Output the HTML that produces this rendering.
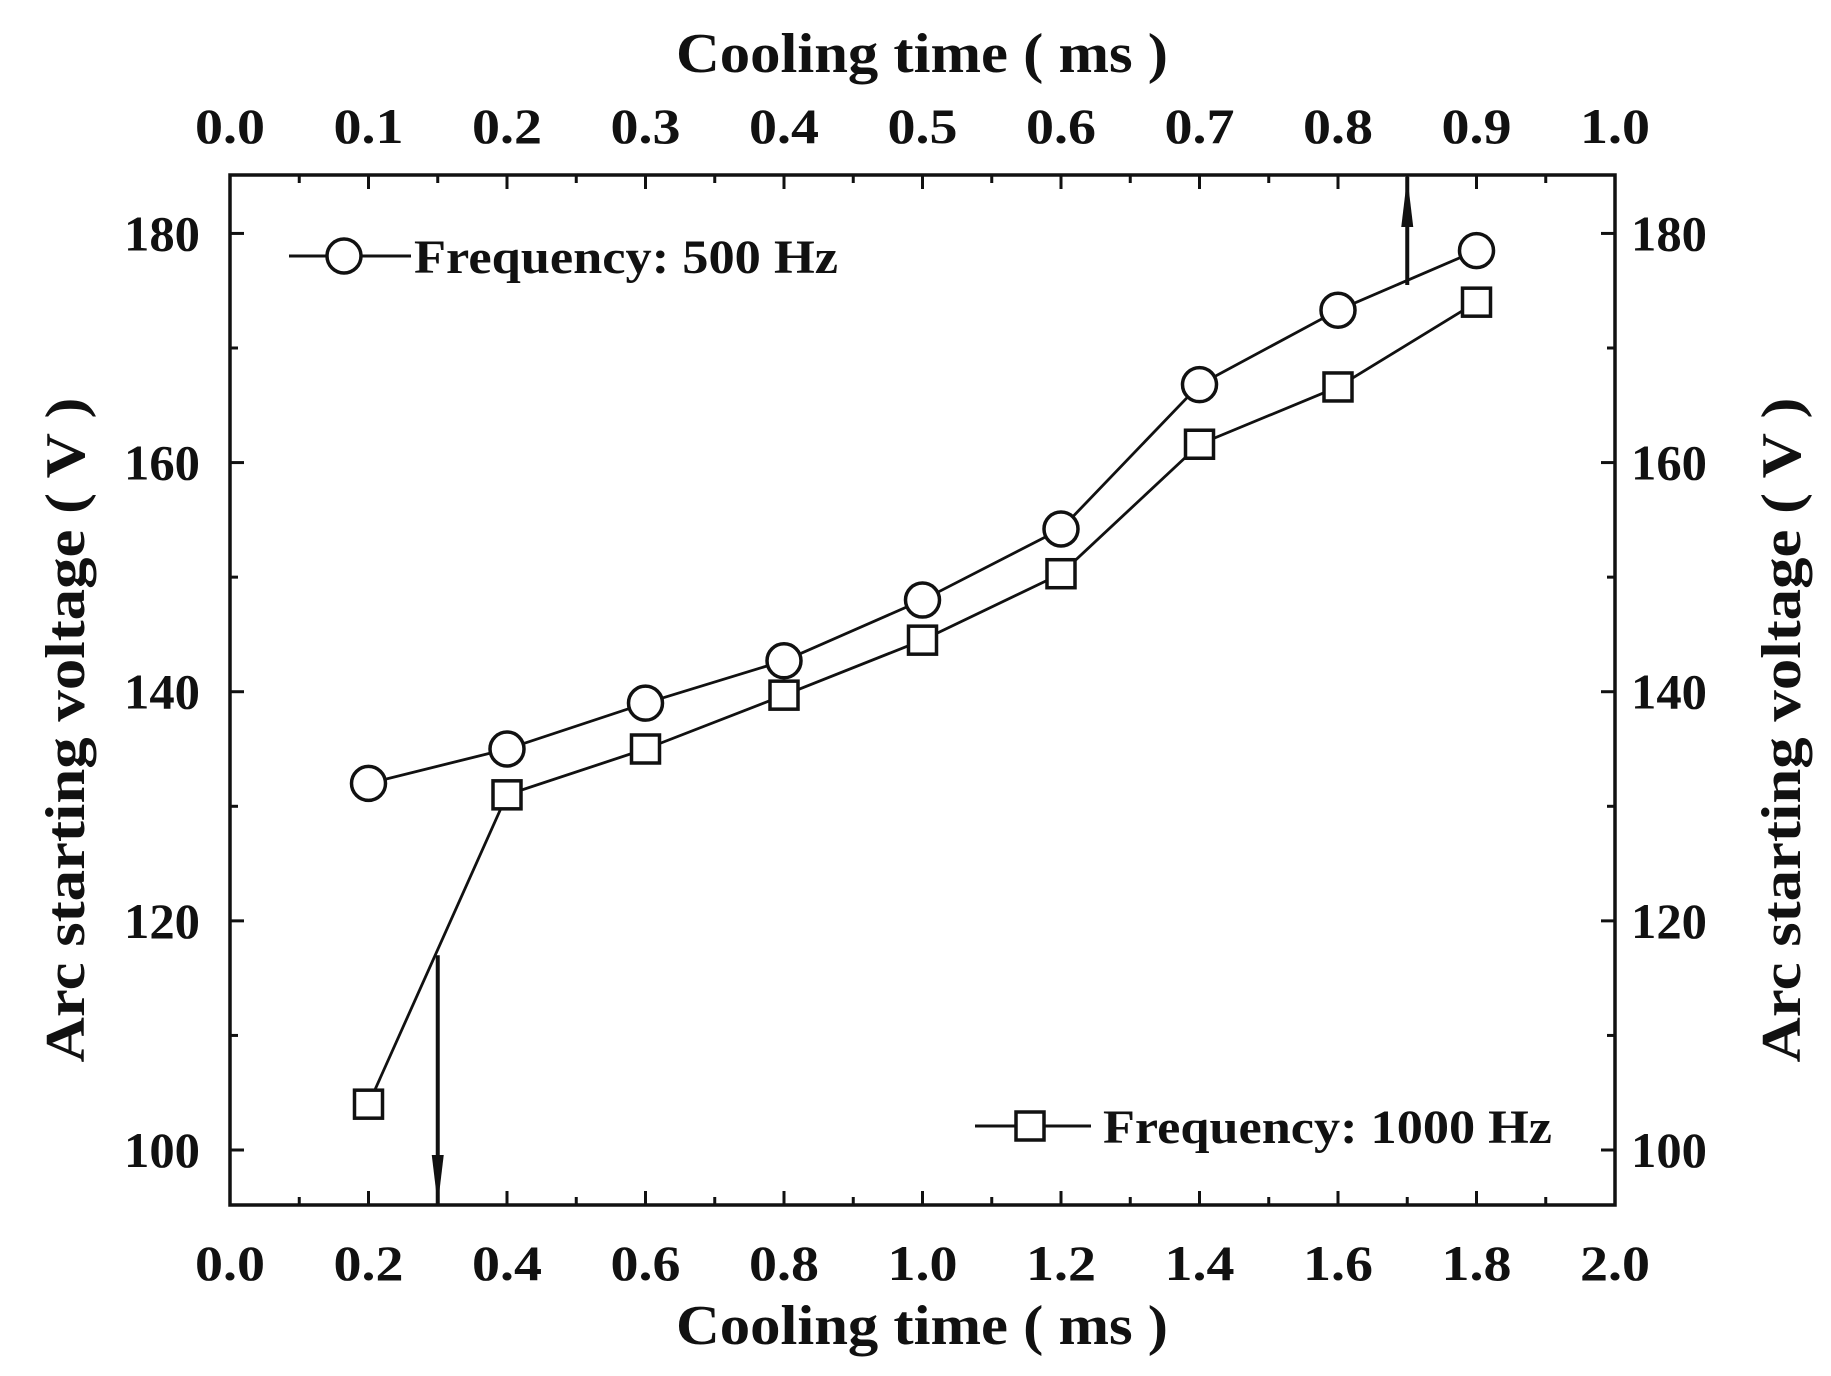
<!DOCTYPE html>
<html><head><meta charset="utf-8"><style>
html,body{margin:0;padding:0;background:#fff;}
svg{display:block;}
text{font-family:"Liberation Serif",serif;font-weight:bold;fill:#111;}
</style></head><body>
<svg id="chart" width="1831" height="1376" viewBox="0 0 1831 1376" xmlns="http://www.w3.org/2000/svg">
<g id="plot"></g>
</svg>
<script>
const categories = [0.2,0.4,0.6,0.8,1.0,1.2,1.4,1.6,1.8];
const series500 = [132,135,139,142.7,148,154.2,166.8,173.3,178.5];
const series1000 = [104,131,135,139.7,144.5,150.3,161.6,166.6,174];
const xTicks = ["0.0","0.2","0.4","0.6","0.8","1.0","1.2","1.4","1.6","1.8","2.0"];
const topTicks = ["0.0","0.1","0.2","0.3","0.4","0.5","0.6","0.7","0.8","0.9","1.0"];
const yTicks = [100,120,140,160,180];

const L=230,R=1615,T=175,B=1205;
const X0=0,X1=2,Y0=95.2,Y1=185.1;
const sx=v=>L+(v-X0)/(X1-X0)*(R-L);
const sy=v=>B-(v-Y0)/(Y1-Y0)*(B-T);
const NS="http://www.w3.org/2000/svg";
const g=document.getElementById('plot');
function el(tag,attrs,parent){const e=document.createElementNS(NS,tag);for(const k in attrs)e.setAttribute(k,attrs[k]);(parent||g).appendChild(e);return e;}

let fr=el('rect',{x:L,y:T,width:R-L,height:B-T,fill:'none',stroke:'#111','stroke-width':3.5});



for(let i=0;i<=20;i++){
  const v=i*0.1, x=sx(v), len=(i%2===0)?14:8;
  let t1=el('line',{x1:x,y1:B,x2:x,y2:B-len,stroke:'#111','stroke-width':3});
  
  
  let t2=el('line',{x1:x,y1:T,x2:x,y2:T+len,stroke:'#111','stroke-width':3});
  
  
}
xTicks.forEach((s,i)=>{
  const x=sx(i*0.2);
  let t=el('text',{x:x,y:1280,'font-size':50,'text-anchor':'middle',textLength:70,lengthAdjust:'spacingAndGlyphs'});t.textContent=s;
  
  
});
topTicks.forEach((s,i)=>{
  const x=sx(i*0.2);
  let t=el('text',{x:x,y:143,'font-size':50,'text-anchor':'middle',textLength:70,lengthAdjust:'spacingAndGlyphs'});t.textContent=s;
  
  
});
for(let v=100;v<=180;v+=10){
  const y=sy(v), len=(v%20===0)?14:8;
  let a=el('line',{x1:L,y1:y,x2:L+len,y2:y,stroke:'#111','stroke-width':3});
  
  
  let b=el('line',{x1:R,y1:y,x2:R-len,y2:y,stroke:'#111','stroke-width':3});
  
  
}
yTicks.forEach(v=>{
  const y=sy(v)+17;
  let a=el('text',{x:200,y:y,'font-size':50,'text-anchor':'end',textLength:76,lengthAdjust:'spacingAndGlyphs'});a.textContent=v;
  
  
  let b=el('text',{x:1631,y:y,'font-size':50,'text-anchor':'start',textLength:76,lengthAdjust:'spacingAndGlyphs'});b.textContent=v;
  
  
});
let tt=el('text',{x:922,y:72,'font-size':56,'text-anchor':'middle',textLength:492,lengthAdjust:'spacingAndGlyphs'});tt.textContent='Cooling time ( ms )';


let bt=el('text',{x:922,y:1344,'font-size':56,'text-anchor':'middle',textLength:492,lengthAdjust:'spacingAndGlyphs'});bt.textContent='Cooling time ( ms )';


let lt=el('text',{x:0,y:0,'font-size':56,'text-anchor':'middle',textLength:665,lengthAdjust:'spacingAndGlyphs',transform:'translate(84,730) rotate(-90)'});lt.textContent='Arc starting voltage ( V )';


let rt=el('text',{x:0,y:0,'font-size':56,'text-anchor':'middle',textLength:665,lengthAdjust:'spacingAndGlyphs',transform:'translate(1800,730) rotate(-90)'});rt.textContent='Arc starting voltage ( V )';



function drawSeries(vals,shape,name){
  const pts=categories.map((c,i)=>[sx(c),sy(vals[i])]);
  for(let i=0;i<pts.length-1;i++){
    let ln=el('line',{x1:pts[i][0],y1:pts[i][1],x2:pts[i+1][0],y2:pts[i+1][1],stroke:'#111','stroke-width':2.8});
    
    
  }
  pts.forEach(p=>{
    let m;
    if(shape==='circle') m=el('circle',{cx:p[0],cy:p[1],r:17,fill:'#fff',stroke:'#111','stroke-width':3.5});
    else m=el('rect',{x:p[0]-14,y:p[1]-14,width:28,height:28,fill:'#fff',stroke:'#111','stroke-width':3.5});
    
    
  });
}
drawSeries(series500,'circle','series-500hz');
drawSeries(series1000,'square','series-1000hz');

function arrow(x,yFrom,yTo,name){
  let ln=el('line',{x1:x,y1:yFrom,x2:x,y2:yTo,stroke:'#111','stroke-width':4});
  
  
  const d=yTo>yFrom?1:-1;
  let hd=el('polygon',{points:`${x-6},${yTo-d*50} ${x+6},${yTo-d*50} ${x},${yTo}`,fill:'#111'});
  
  
}
arrow(sx(0.3),sy(117),B,'arrow-down');
arrow(sx(1.7),sy(175.5),T+2,'arrow-up');

let lg1=el('g',{});


el('line',{x1:289,y1:256,x2:411,y2:256,stroke:'#111','stroke-width':3},lg1);
el('circle',{cx:344,cy:256,r:17,fill:'#fff',stroke:'#111','stroke-width':3.5},lg1);
let l1=el('text',{x:414,y:273,'font-size':48,textLength:424,lengthAdjust:'spacingAndGlyphs'},lg1);l1.textContent='Frequency: 500 Hz';
let lg2=el('g',{});


el('line',{x1:975,y1:1126,x2:1091,y2:1126,stroke:'#111','stroke-width':3},lg2);
el('rect',{x:1016,y:1112,width:28,height:28,fill:'#fff',stroke:'#111','stroke-width':3.5},lg2);
let l2=el('text',{x:1103,y:1143,'font-size':48,textLength:449,lengthAdjust:'spacingAndGlyphs'},lg2);l2.textContent='Frequency: 1000 Hz';
</script>
</body></html>
